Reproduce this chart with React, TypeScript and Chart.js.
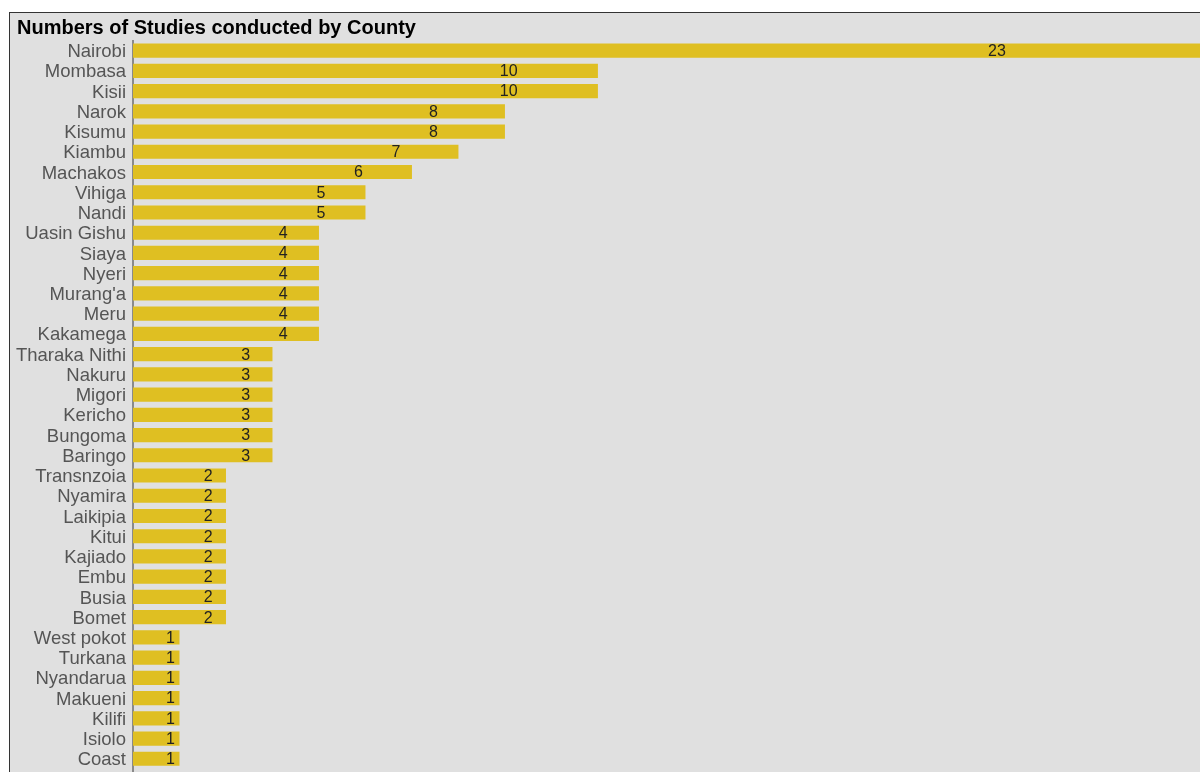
import React, { useEffect, useRef } from "react";
import { Chart, registerables } from "chart.js";

Chart.register(...registerables);

const counties = [
  "Nairobi", "Mombasa", "Kisii", "Narok", "Kisumu", "Kiambu", "Machakos", "Vihiga", "Nandi",
  "Uasin Gishu", "Siaya", "Nyeri", "Murang'a", "Meru", "Kakamega", "Tharaka Nithi", "Nakuru",
  "Migori", "Kericho", "Bungoma", "Baringo", "Transnzoia", "Nyamira", "Laikipia", "Kitui",
  "Kajiado", "Embu", "Busia", "Bomet", "West pokot", "Turkana", "Nyandarua", "Makueni",
  "Kilifi", "Isiolo", "Coast",
];

const studies = [
  23, 10, 10, 8, 8, 7, 6, 5, 5,
  4, 4, 4, 4, 4, 4, 3, 3,
  3, 3, 3, 3, 2, 2, 2, 2,
  2, 2, 2, 2, 1, 1, 1, 1,
  1, 1, 1,
];

const chartTitle = "Numbers of Studies conducted by County";

// Title in the top-left corner, the count written on each bar,
// and the axis line carried down to the bottom edge
const annotate = {
  id: "annotate",
  afterDatasetsDraw(chart: any) {
    const { ctx, chartArea } = chart;
    const xs = chart.scales.x;
    const ys = chart.scales.y;
    ctx.save();
    const axisX = Math.round(chartArea.left);
    ctx.strokeStyle = "#8a8a8a";
    ctx.lineWidth = 2;
    ctx.beginPath();
    ctx.moveTo(axisX, chartArea.bottom - 1);
    ctx.lineTo(axisX, chart.height);
    ctx.stroke();

    ctx.fillStyle = "#000";
    ctx.font = "bold 20px 'Liberation Sans', Arial, sans-serif";
    ctx.textAlign = "left";
    ctx.textBaseline = "middle";
    ctx.fillText(chartTitle, 7, 15);

    ctx.fillStyle = "#222";
    ctx.font = "16px 'Liberation Sans', Arial, sans-serif";
    ctx.textAlign = "center";
    studies.forEach((v, i) => {
      const x = xs.getPixelForValue(v * 0.808);
      const y = ys.getPixelForValue(i);
      ctx.fillText(String(v), x, y + 1);
    });
    ctx.restore();
  },
};

export default function App() {
  const ref = useRef<HTMLCanvasElement>(null);

  useEffect(() => {
    if (!ref.current) return;
    const chart = new Chart(ref.current, {
      type: "bar",
      data: {
        labels: counties,
        datasets: [
          {
            data: studies,
            backgroundColor: "#dfbf22",
            borderWidth: 0,
            barPercentage: 0.7,
            categoryPercentage: 1,
          },
        ],
      },
      options: {
        indexAxis: "y",
        responsive: false,
        animation: false,
        layout: { padding: { top: 27.5, bottom: 3, left: 0, right: 0 } },
        plugins: {
          legend: { display: false },
          tooltip: { enabled: false },
          title: { display: false },
        },
        scales: {
          x: {
            display: false,
            min: 0,
            max: 22.95,
          },
          y: {
            afterFit(scale: any) {
              scale.width = 123;
            },
            grid: { display: false, drawTicks: false },
            border: { display: true, color: "#8a8a8a", width: 2 },
            ticks: {
              color: "#555",
              padding: 7,
              labelOffset: 1.5,
              autoSkip: false,
              font: { size: 18.5, family: "'Liberation Sans', Arial, sans-serif" },
            },
          },
        },
      },
      plugins: [annotate],
    });
    return () => chart.destroy();
  }, []);

  return (
    <div
      style={{
        position: "absolute",
        left: 9,
        top: 12,
        width: 1191,
        height: 760,
        boxSizing: "border-box",
        borderLeft: "1px solid #333",
        borderTop: "1px solid #333",
        background: "#e0e0e0",
        overflow: "hidden",
      }}
    >
      <canvas ref={ref} width={1190} height={774} style={{ display: "block" }} />
    </div>
  );
}
